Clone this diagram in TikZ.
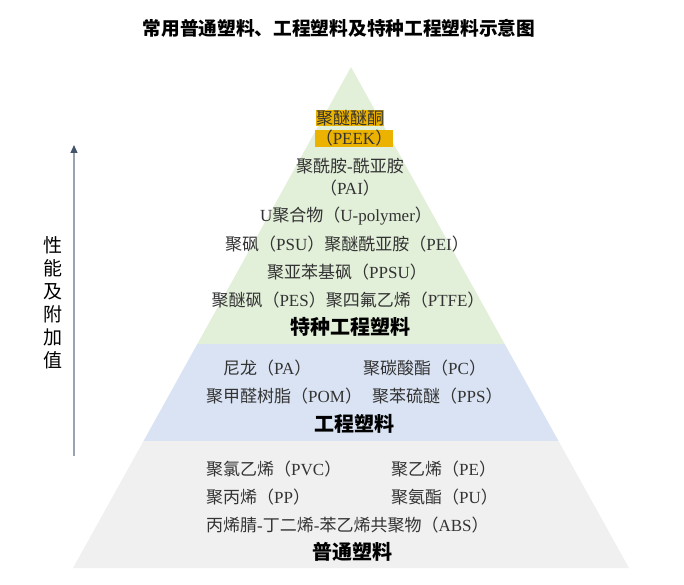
\documentclass[tikz,border=0pt]{standalone}
\usepackage{fontspec}
\setmainfont{Liberation Serif}
\newfontfamily\cjkf{Noto Sans CJK SC}
\usetikzlibrary{arrows.meta}
\newcommand\zh[1]{{\cjkf #1}}
\definecolor{bandgreen}{HTML}{E2EFD9}
\definecolor{bandblue}{HTML}{DAE3F3}
\definecolor{bandgray}{HTML}{F0F0F0}
\definecolor{hl}{HTML}{EBB200}
\definecolor{txt}{HTML}{333333}
\definecolor{axisline}{HTML}{9AA3B0}
\definecolor{axistip}{HTML}{44546A}
\tikzset{
  item/.style={font=\fontsize{17}{20}\selectfont, text=txt, inner sep=0pt},
  head/.style={font=\fontsize{20}{24}\selectfont\bfseries, text=black, inner sep=0pt},
  hlbox/.style={item, fill=hl, inner sep=0.3pt},
}
\begin{document}
\begin{tikzpicture}[x=1pt,y=-1pt]
\useasboundingbox (0,0) rectangle (684,585);
% pyramid geometry
\coordinate (apex) at (351,67);
\coordinate (l1) at (197.3,344);
\coordinate (r1) at (504.7,344);
\coordinate (l2) at (143.5,441);
\coordinate (r2) at (558.5,441);
\coordinate (bl) at (73,568);
\coordinate (br) at (629,568);
\fill[bandgreen] (apex) -- (r1) -- (l1) -- cycle;
\fill[bandblue] (l1) -- (r1) -- (r2) -- (l2) -- cycle;
\fill[bandgray] (l2) -- (r2) -- (br) -- (bl) -- cycle;

% title
\node[font=\fontsize{18.7}{22}\selectfont\bfseries, inner sep=0pt] (title) at (339,28) {\zh{常用普通塑料、工程塑料及特种工程塑料示意图}};

% axis
\coordinate (axbot) at (74,456);
\coordinate (axtop) at (74,145);
\draw[axisline, line width=1.1pt, -{Triangle[length=8pt,width=7pt,color=axistip]}] (axbot) -- (axtop);
\node[font=\fontsize{19}{23}\selectfont, align=center, inner sep=0pt] (axlabel) at (53,302.5) {\zh{性}\\\zh{能}\\\zh{及}\\\zh{附}\\\zh{加}\\\zh{值}};

% special engineering plastics
\node[hlbox] (peek1) at (350,118) {\zh{聚醚醚酮}};
\node[hlbox] (peek2) at (354,138.5) {\zh{（}PEEK\zh{）}};
\node[item] (pai1) at (350,166) {\zh{聚酰胺}-\zh{酰亚胺}};
\node[item] (pai2) at (350,188) {\zh{（}PAI\zh{）}};
\node[item] (upoly) at (346,216) {U\zh{聚合物（}U-polymer\zh{）}};
\node[item] (psu) at (347,244) {\zh{聚砜（}PSU\zh{）聚醚酰亚胺（}PEI\zh{）}};
\node[item] (ppsu) at (347,272) {\zh{聚亚苯基砜（}PPSU\zh{）}};
\node[item] (pes) at (348,300) {\zh{聚醚砜（}PES\zh{）聚四氟乙烯（}PTFE\zh{）}};
\node[head] (h1) at (350,327) {\zh{特种工程塑料}};

% engineering plastics
\node[item, anchor=west] (pa) at (223,368) {\zh{尼龙（}PA\zh{）}};
\node[item, anchor=west] (pc) at (363,368) {\zh{聚碳酸酯（}PC\zh{）}};
\node[item, anchor=west] (pom) at (206,396) {\zh{聚甲醛树脂（}POM\zh{）}};
\node[item, anchor=west] (pps) at (372,396) {\zh{聚苯硫醚（}PPS\zh{）}};
\node[head] (h2) at (354,424) {\zh{工程塑料}};

% commodity plastics
\node[item, anchor=west] (pvc) at (206,469) {\zh{聚氯乙烯（}PVC\zh{）}};
\node[item, anchor=west] (pe) at (391,469) {\zh{聚乙烯（}PE\zh{）}};
\node[item, anchor=west] (pp) at (206,497) {\zh{聚丙烯（}PP\zh{）}};
\node[item, anchor=west] (pu) at (391,497) {\zh{聚氨酯（}PU\zh{）}};
\node[item, anchor=west] (abs) at (206,525) {\zh{丙烯腈}-\zh{丁二烯}-\zh{苯乙烯共聚物（}ABS\zh{）}};
\node[head] (h3) at (352,552) {\zh{普通塑料}};
\end{tikzpicture}
\end{document}
